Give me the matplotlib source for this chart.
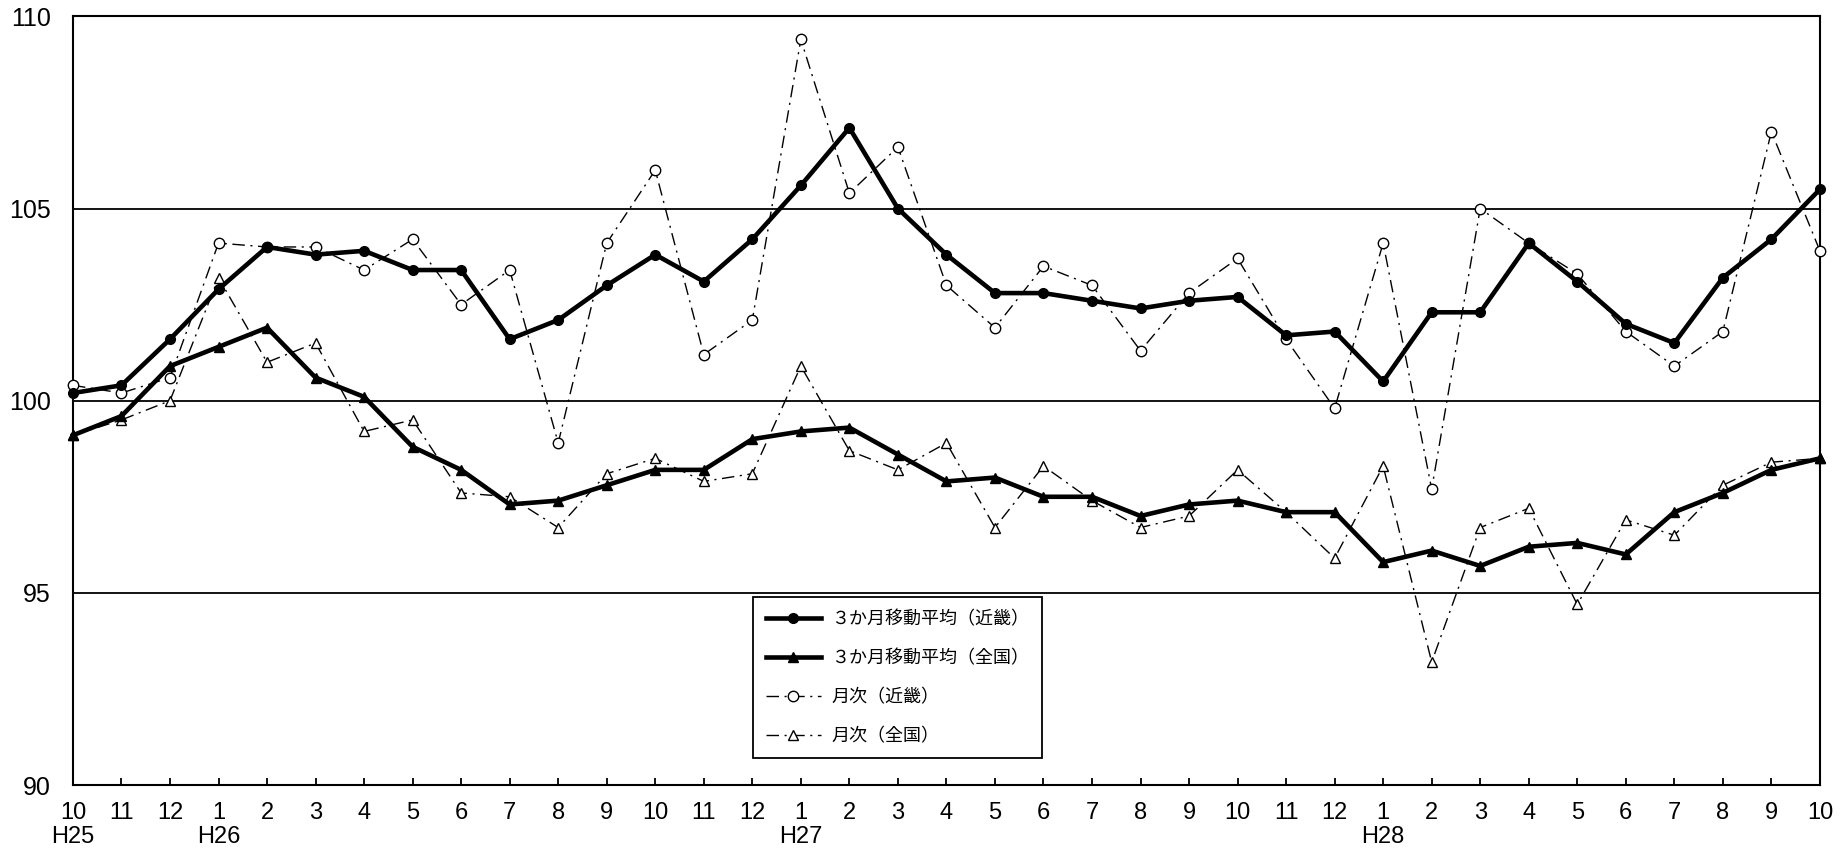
import matplotlib
matplotlib.use("Agg")
import matplotlib.pyplot as plt
from matplotlib import font_manager

# months Oct H25 .. Oct H28
months = ["10", "11", "12", "1", "2", "3", "4", "5", "6", "7", "8", "9",
          "10", "11", "12", "1", "2", "3", "4", "5", "6", "7", "8", "9",
          "10", "11", "12", "1", "2", "3", "4", "5", "6", "7", "8", "9", "10"]
era_labels = {0: "H25", 3: "H26", 15: "H27", 27: "H28"}

ma_kinki = [100.2, 100.4, 101.6, 102.9, 104.0, 103.8, 103.9, 103.4, 103.4, 101.6, 102.1, 103.0,
            103.8, 103.1, 104.2, 105.6, 107.1, 105.0, 103.8, 102.8, 102.8, 102.6, 102.4, 102.6,
            102.7, 101.7, 101.8, 100.5, 102.3, 102.3, 104.1, 103.1, 102.0, 101.5, 103.2, 104.2, 105.5]
ma_zenkoku = [99.1, 99.6, 100.9, 101.4, 101.9, 100.6, 100.1, 98.8, 98.2, 97.3, 97.4, 97.8,
              98.2, 98.2, 99.0, 99.2, 99.3, 98.6, 97.9, 98.0, 97.5, 97.5, 97.0, 97.3,
              97.4, 97.1, 97.1, 95.8, 96.1, 95.7, 96.2, 96.3, 96.0, 97.1, 97.6, 98.2, 98.5]
mon_kinki = [100.4, 100.2, 100.6, 104.1, 104.0, 104.0, 103.4, 104.2, 102.5, 103.4, 98.9, 104.1,
             106.0, 101.2, 102.1, 109.4, 105.4, 106.6, 103.0, 101.9, 103.5, 103.0, 101.3, 102.8,
             103.7, 101.6, 99.8, 104.1, 97.7, 105.0, 104.1, 103.3, 101.8, 100.9, 101.8, 107.0, 103.9]
mon_zenkoku = [99.1, 99.5, 100.0, 103.2, 101.0, 101.5, 99.2, 99.5, 97.6, 97.5, 96.7, 98.1,
               98.5, 97.9, 98.1, 100.9, 98.7, 98.2, 98.9, 96.7, 98.3, 97.4, 96.7, 97.0,
               98.2, 97.1, 95.9, 98.3, 93.2, 96.7, 97.2, 94.7, 96.9, 96.5, 97.8, 98.4, 98.5]

labels = ["３か月移動平均（近畿）", "３か月移動平均（全国）", "月次（近畿）", "月次（全国）"]

names = {f.name for f in font_manager.fontManager.ttflist}
num_font = ["Liberation Sans Narrow", "DejaVu Sans"] if "Liberation Sans Narrow" in names else ["Liberation Sans", "DejaVu Sans"]
jp_font = ["Noto Sans CJK JP", "DejaVu Sans"]

fig = plt.figure(figsize=(18.42, 8.52), dpi=100)
ax = fig.add_axes([0.0396, 0.0786, 0.9484, 0.9022])

x = list(range(len(months)))
dashdot = (0, (9, 4, 1.5, 4))

ax.plot(x, ma_kinki, color="black", lw=3.3, marker="o", ms=7, clip_on=False, zorder=5, label=labels[0])
ax.plot(x, ma_zenkoku, color="black", lw=3.3, marker="^", ms=7, clip_on=False, zorder=5, label=labels[1])
ax.plot(x, mon_kinki, color="black", lw=1.0, ls=dashdot, marker="o", ms=7.5, mfc="white", mec="black",
        mew=1.0, clip_on=False, zorder=4, label=labels[2])
ax.plot(x, mon_zenkoku, color="black", lw=1.0, ls=dashdot, marker="^", ms=7.5, mfc="white", mec="black",
        mew=1.0, clip_on=False, zorder=4, label=labels[3])

ax.set_xlim(0, 36)
ax.set_ylim(90, 110)
ax.set_yticks([90, 95, 100, 105, 110])
for yv in [95, 100, 105]:
    ax.axhline(yv, color="black", lw=1.3, zorder=1)

ax.set_xticks(x)
ax.set_xticklabels(months, family=num_font, fontsize=17)
ax.set_yticklabels(["90", "95", "100", "105", "110"], family=num_font, fontsize=18)
ax.tick_params(axis="x", direction="in", length=5, width=1.3, pad=12)
ax.tick_params(axis="y", length=0, pad=16)
for sp in ax.spines.values():
    sp.set_linewidth(1.5)

for i, era in era_labels.items():
    ax.text(i, -0.067, era, transform=ax.get_xaxis_transform(), ha="center", va="center",
            family=num_font, fontsize=17)

leg = ax.legend(loc="upper left", bbox_to_anchor=(0.389, 0.2446), borderaxespad=0,
                prop={"family": jp_font, "size": 13}, frameon=True, fancybox=False,
                edgecolor="black", framealpha=1, handlelength=3.1, handletextpad=0.55,
                borderpad=0.72, labelspacing=1.17)
leg.get_frame().set_linewidth(1.3)

fig.savefig("out.png", dpi=100)
